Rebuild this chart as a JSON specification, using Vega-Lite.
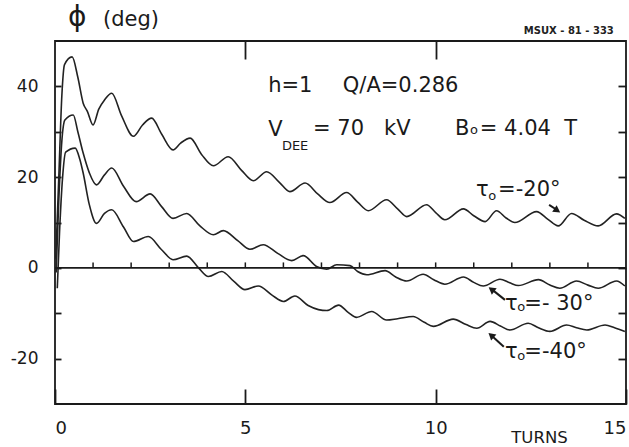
{
  "$schema": "https://vega.github.io/schema/vega-lite/v6.json",
  "width": 571,
  "height": 363,
  "autosize": {"type": "none"},
  "padding": {"left": 55, "top": 41, "right": 3, "bottom": 43},
  "background": "white",
  "config": {
    "view": {"stroke": "#1a1a1a", "strokeWidth": 1.8},
    "font": "DejaVu Sans",
    "axis": {"grid": false, "domain": false, "tickColor": "#1a1a1a", "tickWidth": 1.8, "labelColor": "#1a1a1a", "titleColor": "#1a1a1a", "titleFontWeight": "normal", "labelFont": "DejaVu Sans", "titleFont": "DejaVu Sans"}
  },
  "datasets": {
    "curves": [
      {"s": "-20", "x": 0.02, "y": 2}, {"s": "-20", "x": 0.1, "y": 20}, {"s": "-20", "x": 0.18, "y": 38}, {"s": "-20", "x": 0.25, "y": 44.8}, {"s": "-20", "x": 0.45, "y": 46.5}, {"s": "-20", "x": 0.6, "y": 42}, {"s": "-20", "x": 0.74, "y": 36.3}, {"s": "-20", "x": 0.85, "y": 34.5}, {"s": "-20", "x": 1.0, "y": 31.5}, {"s": "-20", "x": 1.15, "y": 35}, {"s": "-20", "x": 1.3, "y": 37}, {"s": "-20", "x": 1.49, "y": 38.5}, {"s": "-20", "x": 1.75, "y": 33.5}, {"s": "-20", "x": 2.06, "y": 29}, {"s": "-20", "x": 2.3, "y": 31.5}, {"s": "-20", "x": 2.54, "y": 33}, {"s": "-20", "x": 2.8, "y": 29.5}, {"s": "-20", "x": 3.1, "y": 26}, {"s": "-20", "x": 3.3, "y": 27.5}, {"s": "-20", "x": 3.55, "y": 28.6}, {"s": "-20", "x": 3.85, "y": 25}, {"s": "-20", "x": 4.16, "y": 22.5}, {"s": "-20", "x": 4.55, "y": 24.5}, {"s": "-20", "x": 4.9, "y": 21.5}, {"s": "-20", "x": 5.21, "y": 19.2}, {"s": "-20", "x": 5.56, "y": 21.2}, {"s": "-20", "x": 5.9, "y": 18.8}, {"s": "-20", "x": 6.17, "y": 16.8}, {"s": "-20", "x": 6.57, "y": 18.7}, {"s": "-20", "x": 6.9, "y": 16.3}, {"s": "-20", "x": 7.22, "y": 14.4}, {"s": "-20", "x": 7.66, "y": 16.6}, {"s": "-20", "x": 7.95, "y": 14.5}, {"s": "-20", "x": 8.23, "y": 12.6}, {"s": "-20", "x": 8.71, "y": 15}, {"s": "-20", "x": 9.0, "y": 13}, {"s": "-20", "x": 9.24, "y": 11.3}, {"s": "-20", "x": 9.76, "y": 13.9}, {"s": "-20", "x": 10.0, "y": 12.2}, {"s": "-20", "x": 10.24, "y": 10.6}, {"s": "-20", "x": 10.73, "y": 13}, {"s": "-20", "x": 11.0, "y": 11.5}, {"s": "-20", "x": 11.3, "y": 10.2}, {"s": "-20", "x": 11.6, "y": 12.6}, {"s": "-20", "x": 11.85, "y": 11}, {"s": "-20", "x": 12.08, "y": 10}, {"s": "-20", "x": 12.65, "y": 12.4}, {"s": "-20", "x": 12.95, "y": 10.7}, {"s": "-20", "x": 13.22, "y": 9.25}, {"s": "-20", "x": 13.57, "y": 12}, {"s": "-20", "x": 13.9, "y": 10.5}, {"s": "-20", "x": 14.27, "y": 9.25}, {"s": "-20", "x": 14.75, "y": 11.9}, {"s": "-20", "x": 14.97, "y": 10.9},
      {"s": "-30", "x": 0.03, "y": -1}, {"s": "-30", "x": 0.1, "y": 15}, {"s": "-30", "x": 0.18, "y": 28}, {"s": "-30", "x": 0.26, "y": 32.6}, {"s": "-30", "x": 0.48, "y": 33.7}, {"s": "-30", "x": 0.6, "y": 30}, {"s": "-30", "x": 0.74, "y": 25.3}, {"s": "-30", "x": 0.9, "y": 21}, {"s": "-30", "x": 1.09, "y": 18.3}, {"s": "-30", "x": 1.3, "y": 20.5}, {"s": "-30", "x": 1.49, "y": 22}, {"s": "-30", "x": 1.8, "y": 18}, {"s": "-30", "x": 2.13, "y": 14.6}, {"s": "-30", "x": 2.5, "y": 16.3}, {"s": "-30", "x": 2.8, "y": 13.5}, {"s": "-30", "x": 3.1, "y": 10.9}, {"s": "-30", "x": 3.46, "y": 12}, {"s": "-30", "x": 3.8, "y": 9.3}, {"s": "-30", "x": 4.16, "y": 7.3}, {"s": "-30", "x": 4.42, "y": 8.2}, {"s": "-30", "x": 4.8, "y": 6}, {"s": "-30", "x": 5.12, "y": 4.1}, {"s": "-30", "x": 5.47, "y": 5.1}, {"s": "-30", "x": 5.85, "y": 3.2}, {"s": "-30", "x": 6.22, "y": 1.6}, {"s": "-30", "x": 6.52, "y": 2.7}, {"s": "-30", "x": 6.87, "y": 0.3}, {"s": "-30", "x": 7.14, "y": -0.3}, {"s": "-30", "x": 7.4, "y": 0.7}, {"s": "-30", "x": 7.75, "y": 0.5}, {"s": "-30", "x": 7.95, "y": -0.8}, {"s": "-30", "x": 8.19, "y": -1.5}, {"s": "-30", "x": 8.67, "y": -0.6}, {"s": "-30", "x": 8.95, "y": -2}, {"s": "-30", "x": 9.24, "y": -2.9}, {"s": "-30", "x": 9.67, "y": -1.4}, {"s": "-30", "x": 9.95, "y": -2.6}, {"s": "-30", "x": 10.24, "y": -3.6}, {"s": "-30", "x": 10.73, "y": -2}, {"s": "-30", "x": 11.0, "y": -3.2}, {"s": "-30", "x": 11.25, "y": -4}, {"s": "-30", "x": 11.69, "y": -2.5}, {"s": "-30", "x": 11.95, "y": -3.3}, {"s": "-30", "x": 12.17, "y": -3.9}, {"s": "-30", "x": 12.7, "y": -2.6}, {"s": "-30", "x": 13.0, "y": -3.8}, {"s": "-30", "x": 13.26, "y": -4.5}, {"s": "-30", "x": 13.7, "y": -2.9}, {"s": "-30", "x": 14.0, "y": -3.8}, {"s": "-30", "x": 14.27, "y": -4.5}, {"s": "-30", "x": 14.75, "y": -2.9}, {"s": "-30", "x": 14.97, "y": -4},
      {"s": "-40", "x": 0.06, "y": -4.5}, {"s": "-40", "x": 0.12, "y": 8}, {"s": "-40", "x": 0.2, "y": 20}, {"s": "-40", "x": 0.28, "y": 25.5}, {"s": "-40", "x": 0.53, "y": 26.4}, {"s": "-40", "x": 0.65, "y": 24}, {"s": "-40", "x": 0.74, "y": 20.9}, {"s": "-40", "x": 0.9, "y": 14}, {"s": "-40", "x": 1.09, "y": 9.8}, {"s": "-40", "x": 1.3, "y": 12}, {"s": "-40", "x": 1.49, "y": 12.8}, {"s": "-40", "x": 1.8, "y": 9}, {"s": "-40", "x": 2.06, "y": 5.8}, {"s": "-40", "x": 2.45, "y": 6.9}, {"s": "-40", "x": 2.8, "y": 4}, {"s": "-40", "x": 3.1, "y": 1.8}, {"s": "-40", "x": 3.46, "y": 2.6}, {"s": "-40", "x": 3.77, "y": 0}, {"s": "-40", "x": 4.03, "y": -1.9}, {"s": "-40", "x": 4.38, "y": -0.8}, {"s": "-40", "x": 4.7, "y": -3}, {"s": "-40", "x": 4.99, "y": -4.8}, {"s": "-40", "x": 5.34, "y": -4}, {"s": "-40", "x": 5.7, "y": -6}, {"s": "-40", "x": 6.0, "y": -7.4}, {"s": "-40", "x": 6.3, "y": -6.2}, {"s": "-40", "x": 6.65, "y": -8.3}, {"s": "-40", "x": 6.92, "y": -9.2}, {"s": "-40", "x": 7.14, "y": -9.4}, {"s": "-40", "x": 7.45, "y": -8.2}, {"s": "-40", "x": 7.7, "y": -9.8}, {"s": "-40", "x": 7.92, "y": -10.9}, {"s": "-40", "x": 8.32, "y": -9.6}, {"s": "-40", "x": 8.71, "y": -11.5}, {"s": "-40", "x": 9.0, "y": -11.2}, {"s": "-40", "x": 9.41, "y": -10.7}, {"s": "-40", "x": 9.7, "y": -12}, {"s": "-40", "x": 9.94, "y": -12.9}, {"s": "-40", "x": 10.46, "y": -11.3}, {"s": "-40", "x": 10.8, "y": -12.5}, {"s": "-40", "x": 11.08, "y": -13.3}, {"s": "-40", "x": 11.43, "y": -11.8}, {"s": "-40", "x": 11.7, "y": -12.8}, {"s": "-40", "x": 11.95, "y": -13.7}, {"s": "-40", "x": 12.43, "y": -12.2}, {"s": "-40", "x": 12.7, "y": -13.2}, {"s": "-40", "x": 13.0, "y": -14}, {"s": "-40", "x": 13.44, "y": -12.6}, {"s": "-40", "x": 13.7, "y": -13.2}, {"s": "-40", "x": 13.97, "y": -13.7}, {"s": "-40", "x": 14.45, "y": -12.6}, {"s": "-40", "x": 14.7, "y": -13.2}, {"s": "-40", "x": 14.97, "y": -14}
    ],
    "zeroticks": [{"x": 1}, {"x": 2}, {"x": 3}, {"x": 4}, {"x": 5}, {"x": 6}, {"x": 7}, {"x": 8}, {"x": 9}, {"x": 10}, {"x": 11}, {"x": 12}, {"x": 13}, {"x": 14}],
    "big": [
      {"x": 5.6, "y": 38.8, "text": "h=1"},
      {"x": 7.56, "y": 38.8, "text": "Q/A=0.286"},
      {"x": 5.6, "y": 29.0, "text": "V"},
      {"x": 6.78, "y": 29.3, "text": "= 70\u00a0\u00a0\u00a0kV"},
      {"x": 10.51, "y": 29.3, "text": "B"},
      {"x": 11.16, "y": 29.3, "text": "= 4.04\u00a0\u00a0T"}
    ],
    "small": [
      {"x": 5.96, "y": 26.0, "text": "DEE"},
      {"x": 10.9, "y": 29.6, "text": "o"},
      {"x": 11.38, "y": 15.0, "text": "o"},
      {"x": 12.14, "y": -9.6, "text": "o"},
      {"x": 12.14, "y": -20.2, "text": "o"}
    ],
    "tau": [
      {"x": 11.06, "y": 15.8, "text": "τ"},
      {"x": 11.64, "y": 15.8, "text": "=-20°"},
      {"x": 11.82, "y": -9.3, "text": "τ"},
      {"x": 12.33, "y": -9.3, "text": "=-\u00a030°"},
      {"x": 11.82, "y": -19.9, "text": "τ"},
      {"x": 12.33, "y": -19.9, "text": "=-40°"}
    ],
    "arrows": [
      {"s": "-20", "x": 12.98, "y": 13.9, "x2": 13.2, "y2": 12.7},
      {"s": "-30", "x": 11.82, "y": -7.05, "x2": 11.5, "y2": -4.9},
      {"s": "-40", "x": 11.79, "y": -17.4, "x2": 11.48, "y2": -15.0}
    ],
    "heads": [
      {"s": "-20", "x": 13.17, "y": 12.8},
      {"s": "-30", "x": 11.49, "y": -4.9},
      {"s": "-40", "x": 11.48, "y": -15.0}
    ]
  },
  "layer": [
    {
      "data": {"name": "curves"},
      "mark": {"type": "line", "interpolate": "monotone", "stroke": "#222", "strokeWidth": 1.6},
      "encoding": {
        "x": {"field": "x", "type": "quantitative", "scale": {"domain": [0, 15], "nice": false},
          "axis": {"orient": "bottom", "values": [0, 5, 10, 15], "tickSize": -15, "labelFontSize": 18, "labelPadding": 30, "labelFlush": true, "labelFlushOffset": 0, "title": "TURNS", "titleFontSize": 16.5, "titleX": 484, "titleY": 33, "titleAlign": "center", "titleBaseline": "middle"}},
        "y": {"field": "y", "type": "quantitative", "scale": {"domain": [-30, 50], "nice": false},
          "axis": {"orient": "left", "values": [-20, -10, 0, 10, 20, 30, 40], "tickSize": -6, "labelExpr": "datum.value % 20 === 0 ? replace(datum.label, '−', '-') : ''", "labelFontSize": 17, "labelPadding": 23, "title": null}},
        "detail": {"field": "s", "type": "nominal"}
      }
    },
    {
      "data": {"values": [{"y": 0}]},
      "mark": {"type": "rule", "stroke": "#1a1a1a", "strokeWidth": 1.6},
      "encoding": {"y": {"field": "y", "type": "quantitative", "scale": {"domain": [-30, 50], "nice": false}, "axis": null}}
    },
    {
      "data": {"name": "zeroticks"},
      "mark": {"type": "rule", "stroke": "#1a1a1a", "strokeWidth": 1.5},
      "encoding": {
        "x": {"field": "x", "type": "quantitative", "scale": {"domain": [0, 15], "nice": false}, "axis": null},
        "y": {"datum": 0, "type": "quantitative", "scale": {"domain": [-30, 50], "nice": false}, "axis": null},
        "y2": {"datum": 1.2}
      }
    },
    {
      "data": {"name": "big"},
      "mark": {"type": "text", "align": "left", "baseline": "alphabetic", "fontSize": 21, "fill": "#1a1a1a"},
      "encoding": {
        "x": {"field": "x", "type": "quantitative", "scale": {"domain": [0, 15], "nice": false},
          "axis": {"orient": "top", "values": [5, 10], "tickSize": -18, "labels": false, "title": null}},
        "y": {"field": "y", "type": "quantitative", "scale": {"domain": [-30, 50], "nice": false},
          "axis": {"orient": "right", "values": [-20, -10, 0, 10, 20, 30, 40], "tickSize": -8, "labels": false, "title": null}},
        "text": {"field": "text"}
      }
    },
    {
      "data": {"name": "small"},
      "mark": {"type": "text", "align": "left", "baseline": "alphabetic", "fontSize": 13, "fill": "#1a1a1a"},
      "encoding": {
        "x": {"field": "x", "type": "quantitative", "scale": {"domain": [0, 15], "nice": false}, "axis": null},
        "y": {"field": "y", "type": "quantitative", "scale": {"domain": [-30, 50], "nice": false}, "axis": null},
        "text": {"field": "text"}
      }
    },
    {
      "data": {"name": "tau"},
      "mark": {"type": "text", "align": "left", "baseline": "alphabetic", "fontSize": 21, "fill": "#1a1a1a"},
      "encoding": {
        "x": {"field": "x", "type": "quantitative", "scale": {"domain": [0, 15], "nice": false}, "axis": null},
        "y": {"field": "y", "type": "quantitative", "scale": {"domain": [-30, 50], "nice": false}, "axis": null},
        "text": {"field": "text"}
      }
    },
    {
      "data": {"values": [{"x": 0.34, "y": 53.3, "text": "ϕ"}]},
      "mark": {"type": "text", "align": "left", "baseline": "alphabetic", "fontSize": 28, "fill": "#1a1a1a", "clip": false},
      "encoding": {
        "x": {"field": "x", "type": "quantitative", "scale": {"domain": [0, 15], "nice": false}, "axis": null},
        "y": {"field": "y", "type": "quantitative", "scale": {"domain": [-30, 50], "nice": false}, "axis": null},
        "text": {"field": "text"}
      }
    },
    {
      "data": {"values": [{"x": 1.26, "y": 53.3, "text": "(deg)"}]},
      "mark": {"type": "text", "align": "left", "baseline": "alphabetic", "fontSize": 21, "fill": "#1a1a1a", "clip": false},
      "encoding": {
        "x": {"field": "x", "type": "quantitative", "scale": {"domain": [0, 15], "nice": false}, "axis": null},
        "y": {"field": "y", "type": "quantitative", "scale": {"domain": [-30, 50], "nice": false}, "axis": null},
        "text": {"field": "text"}
      }
    },
    {
      "data": {"values": [{"x": 14.68, "y": 51.5, "text": "MSUX - 81 - 333"}]},
      "mark": {"type": "text", "align": "right", "baseline": "alphabetic", "fontSize": 10, "fontWeight": "bold", "fill": "#222", "clip": false},
      "encoding": {
        "x": {"field": "x", "type": "quantitative", "scale": {"domain": [0, 15], "nice": false}, "axis": null},
        "y": {"field": "y", "type": "quantitative", "scale": {"domain": [-30, 50], "nice": false}, "axis": null},
        "text": {"field": "text"}
      }
    },
    {
      "data": {"name": "arrows"},
      "mark": {"type": "rule", "stroke": "#1a1a1a", "strokeWidth": 2},
      "encoding": {
        "x": {"field": "x", "type": "quantitative", "scale": {"domain": [0, 15], "nice": false}, "axis": null},
        "y": {"field": "y", "type": "quantitative", "scale": {"domain": [-30, 50], "nice": false}, "axis": null},
        "x2": {"field": "x2"},
        "y2": {"field": "y2"}
      }
    },
    {
      "data": {"name": "heads"},
      "transform": [{"filter": "datum.s === '-20'"}],
      "mark": {"type": "point", "shape": "triangle", "filled": true, "fill": "#1a1a1a", "strokeWidth": 0, "size": 65, "angle": 124, "opacity": 1},
      "encoding": {
        "x": {"field": "x", "type": "quantitative", "scale": {"domain": [0, 15], "nice": false}, "axis": null},
        "y": {"field": "y", "type": "quantitative", "scale": {"domain": [-30, 50], "nice": false}, "axis": null}
      }
    },
    {
      "data": {"name": "heads"},
      "transform": [{"filter": "datum.s === '-30'"}],
      "mark": {"type": "point", "shape": "triangle", "filled": true, "fill": "#1a1a1a", "strokeWidth": 0, "size": 65, "angle": 307, "opacity": 1},
      "encoding": {
        "x": {"field": "x", "type": "quantitative", "scale": {"domain": [0, 15], "nice": false}, "axis": null},
        "y": {"field": "y", "type": "quantitative", "scale": {"domain": [-30, 50], "nice": false}, "axis": null}
      }
    },
    {
      "data": {"name": "heads"},
      "transform": [{"filter": "datum.s === '-40'"}],
      "mark": {"type": "point", "shape": "triangle", "filled": true, "fill": "#1a1a1a", "strokeWidth": 0, "size": 65, "angle": 311, "opacity": 1},
      "encoding": {
        "x": {"field": "x", "type": "quantitative", "scale": {"domain": [0, 15], "nice": false}, "axis": null},
        "y": {"field": "y", "type": "quantitative", "scale": {"domain": [-30, 50], "nice": false}, "axis": null}
      }
    }
  ],
  "resolve": {"axis": {"x": "independent", "y": "independent"}}
}
